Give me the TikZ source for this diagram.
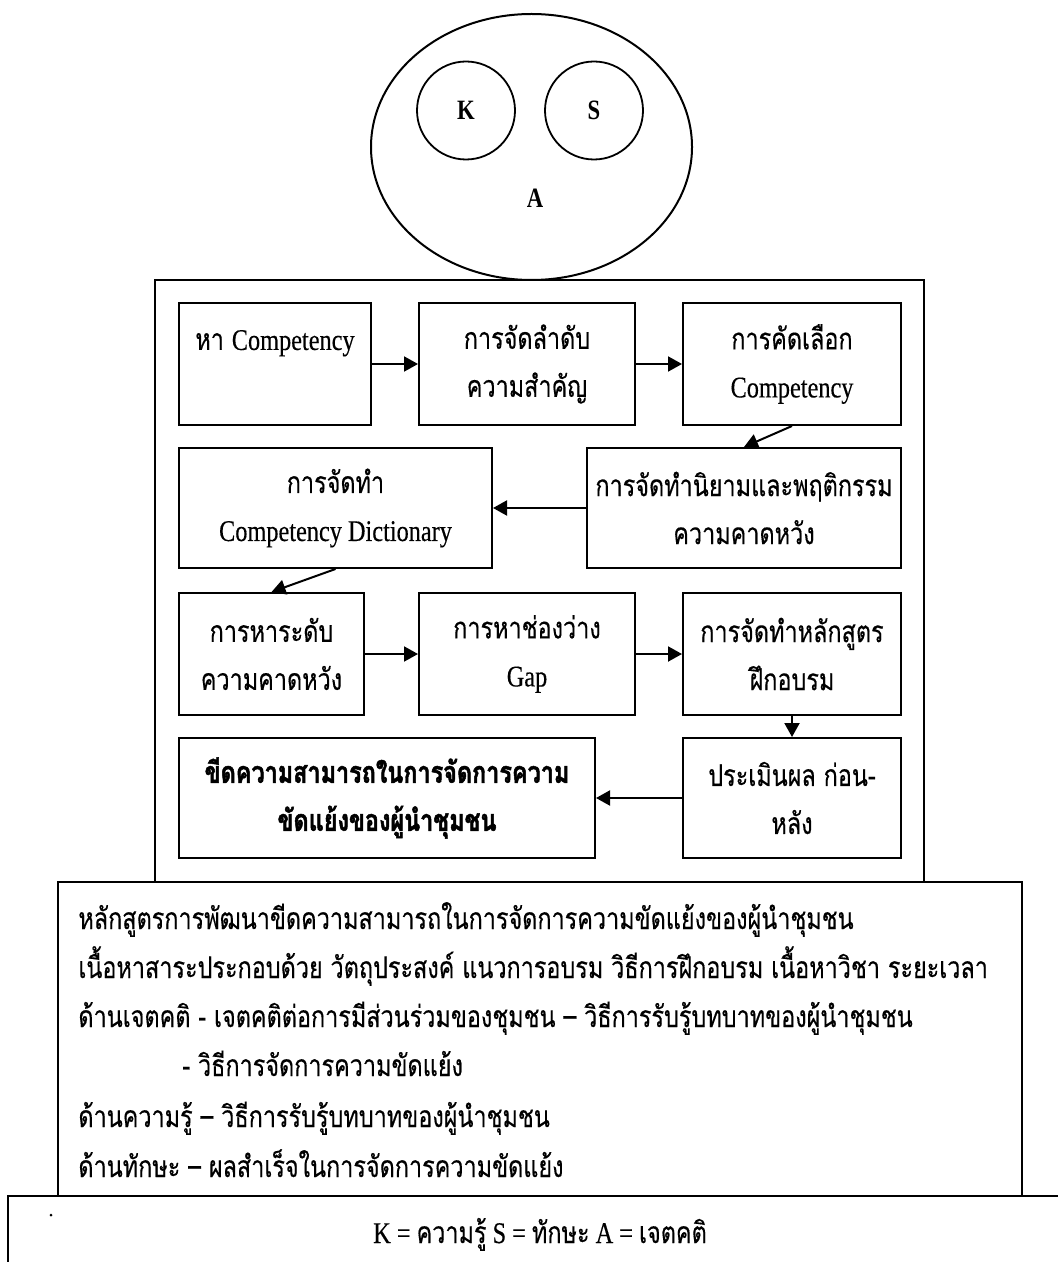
\documentclass[tikz,border=0pt]{standalone}
\usepackage{fontspec}
\setmainfont{Loma}[Script=Thai, FakeStretch=0.78, UprightFeatures={FakeBold=0.35}, BoldFeatures={FakeBold=1.6}]
\newfontfamily\latfont{Liberation Serif}[FakeStretch=0.81, UprightFeatures={FakeBold=0.3}]
\usetikzlibrary{arrows.meta,shapes.geometric}
\tikzset{
  stepbox/.style={draw, line width=1pt, align=center, inner sep=0pt, font=\fontsize{15}{24}\selectfont},
  flow/.style={line width=1pt, -{Triangle[length=7pt,width=7.5pt]}},
  plain/.style={inner sep=0pt, font=\fontsize{15}{24}\selectfont},
  letter/.style={font=\latfont\bfseries\fontsize{14}{16}\selectfont},
}

\begin{document}
\begin{tikzpicture}[x=0.5pt, y=-0.5pt]
\useasboundingbox (0,0) rectangle (1057,1262);

\node[draw, ellipse, line width=1pt, minimum width=160.5pt, minimum height=133pt] (att) at (531.5,147) {};
\node[draw, circle, line width=0.9pt, minimum size=49pt, letter] (know) at (466,110.5) {K};
\node[draw, circle, line width=0.9pt, minimum size=49pt, letter] (skill) at (594,110.5) {S};
\node[letter] (attA) at (535,198) {A};

\draw[line width=0.7pt] (155,882) -- (155,280) -- (924,280) -- (924,882);

\node[stepbox, minimum width=96pt, minimum height=61pt] (b1) at (275,364) {หา {\latfont Competency}\\~};
\node[stepbox, minimum width=108pt, minimum height=61pt] (b2) at (527,364) {การจัดลำดับ\\ความสำคัญ};
\node[stepbox, minimum width=109pt, minimum height=61pt] (b3) at (792,364) {การคัดเลือก\\{\latfont Competency}};
\node[stepbox, minimum width=157pt, minimum height=60pt] (b4) at (744,508) {การจัดทำนิยามและพฤติกรรม\\ความคาดหวัง};
\node[stepbox, minimum width=156.5pt, minimum height=60pt] (b5) at (335.5,508) {การจัดทำ\\{\latfont Competency Dictionary}};
\node[stepbox, minimum width=92.5pt, minimum height=61pt] (b6) at (271.5,654) {การหาระดับ\\ความคาดหวัง};
\node[stepbox, minimum width=108pt, minimum height=61pt] (b7) at (527,654) {การหาช่องว่าง\\{\latfont Gap}};
\node[stepbox, minimum width=109pt, minimum height=61pt] (b8) at (792,654) {การจัดทำหลักสูตร\\ฝึกอบรม};
\node[stepbox, minimum width=109pt, minimum height=60pt] (b9) at (792,798) {ประเมินผล ก่อน-\\หลัง};
\node[stepbox, minimum width=208pt, minimum height=60pt, font=\bfseries\fontsize{15}{24}\selectfont] (b10) at (387,798) {ขีดความสามารถในการจัดการความ\\ขัดแย้งของผู้นำชุมชน};

\draw[flow] (b1) -- (b2);
\draw[flow] (b2) -- (b3);
\draw[flow] (b3.south) -- (b4.north);
\draw[flow] (b4) -- (b5);
\draw[flow] (b5.south) -- (b6.north);
\draw[flow] (b6) -- (b7);
\draw[flow] (b7) -- (b8);
\draw[flow] (b8) -- (b9);
\draw[flow] (b9) -- (b10);

\draw[line width=1pt] (58,882) rectangle (1022,1196);
\node[plain, anchor=base west] (l1) at (78,929) {หลักสูตรการพัฒนาขีดความสามารถในการจัดการความขัดแย้งของผู้นำชุมชน};
\node[plain, anchor=base west] (l2) at (78,978) {เนื้อหาสาระประกอบด้วย วัตถุประสงค์ แนวการอบรม วิธีการฝึกอบรม เนื้อหาวิชา ระยะเวลา};
\node[plain, anchor=base west] (l3) at (78,1027) {ด้านเจตคติ - เจตคติต่อการมีส่วนร่วมของชุมชน – วิธีการรับรู้บทบาทของผู้นำชุมชน};
\node[plain, anchor=base west] (l4) at (182,1076) {- วิธีการจัดการความขัดแย้ง};
\node[plain, anchor=base west] (l5) at (78,1127) {ด้านความรู้ – วิธีการรับรู้บทบาทของผู้นำชุมชน};
\node[plain, anchor=base west] (l6) at (78,1177) {ด้านทักษะ  – ผลสำเร็จในการจัดการความขัดแย้ง};

\draw[line width=1pt] (8,1300) -- (8,1196) -- (1080,1196);
\fill (51,1215) circle [radius=1.5];
\node[plain, anchor=base] (key) at (540,1243) {{\latfont K = }ความรู้{\latfont{} S = }ทักษะ{\latfont{} A = }เจตคติ};
\end{tikzpicture}
\end{document}
